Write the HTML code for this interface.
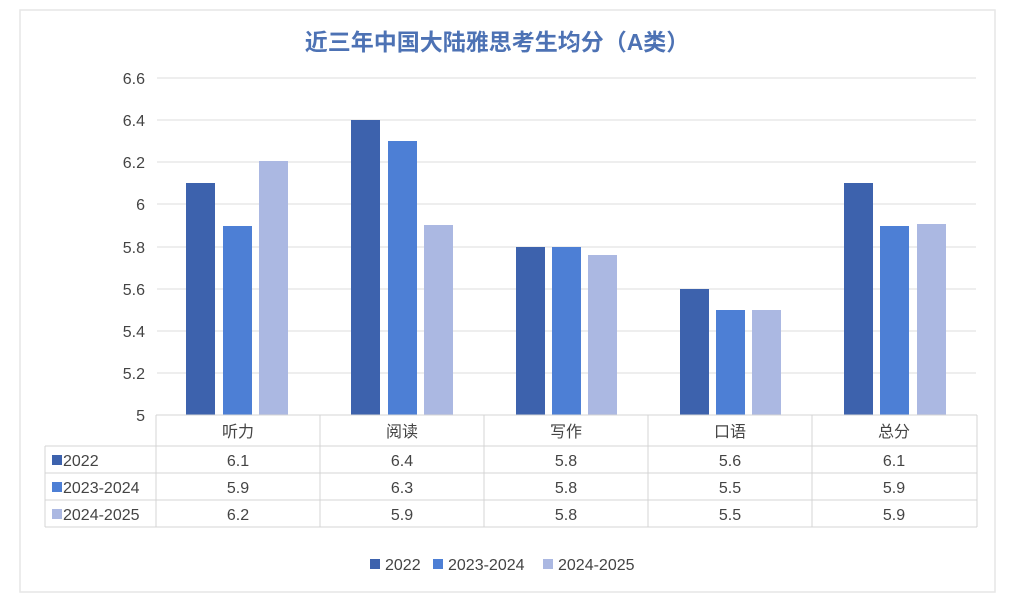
<!DOCTYPE html>
<html><head><meta charset="utf-8"><style>
html,body{margin:0;padding:0;background:#fff;}
svg{display:block;font-family:"Liberation Sans","Noto Sans CJK SC",sans-serif;}
</style></head><body>
<svg width="1024" height="609" viewBox="0 0 1024 609">
<rect x="0" y="0" width="1024" height="609" fill="#fff"/>
<rect x="20" y="10" width="975" height="582" fill="#fff" stroke="#e6e6e6" stroke-width="1.5"/>
<text x="497" y="50" text-anchor="middle" font-size="23" font-weight="bold" fill="#4d72b4">近三年中国大陆雅思考生均分（A类）</text>
<g stroke="#dcdcdc" stroke-width="1">
<line x1="157" y1="78" x2="976" y2="78"/>
<line x1="157" y1="120" x2="976" y2="120"/>
<line x1="157" y1="162" x2="976" y2="162"/>
<line x1="157" y1="204" x2="976" y2="204"/>
<line x1="157" y1="247" x2="976" y2="247"/>
<line x1="157" y1="289" x2="976" y2="289"/>
<line x1="157" y1="331" x2="976" y2="331"/>
<line x1="157" y1="373" x2="976" y2="373"/>
</g>
<g font-size="16" fill="#444" text-anchor="end">
<text x="145" y="84">6.6</text><text x="145" y="126">6.4</text><text x="145" y="168">6.2</text>
<text x="145" y="210">6</text><text x="145" y="253">5.8</text><text x="145" y="295">5.6</text>
<text x="145" y="337">5.4</text><text x="145" y="379">5.2</text><text x="145" y="421">5</text>
</g>
<!-- bars: y = 415 - (v-5)*210.6 -->
<g>
<rect x="186" y="183" width="29" height="232" fill="#3d62ad"/>
<rect x="223" y="226" width="29" height="189" fill="#4d7fd5"/>
<rect x="259" y="161" width="29" height="254" fill="#abb8e2"/>
<rect x="351" y="120" width="29" height="295" fill="#3d62ad"/>
<rect x="388" y="141" width="29" height="274" fill="#4d7fd5"/>
<rect x="424" y="225" width="29" height="190" fill="#abb8e2"/>
<rect x="516" y="247" width="29" height="168" fill="#3d62ad"/>
<rect x="552" y="247" width="29" height="168" fill="#4d7fd5"/>
<rect x="588" y="255" width="29" height="160" fill="#abb8e2"/>
<rect x="680" y="289" width="29" height="126" fill="#3d62ad"/>
<rect x="716" y="310" width="29" height="105" fill="#4d7fd5"/>
<rect x="752" y="310" width="29" height="105" fill="#abb8e2"/>
<rect x="844" y="183" width="29" height="232" fill="#3d62ad"/>
<rect x="880" y="226" width="29" height="189" fill="#4d7fd5"/>
<rect x="917" y="224" width="29" height="191" fill="#abb8e2"/>
</g>
<g stroke="#d4d4d4" stroke-width="1" fill="none">
<line x1="156" y1="415" x2="977" y2="415"/>
<line x1="45" y1="446" x2="977" y2="446"/>
<line x1="45" y1="473" x2="977" y2="473"/>
<line x1="45" y1="500" x2="977" y2="500"/>
<line x1="45" y1="527" x2="977" y2="527"/>
<line x1="45" y1="446" x2="45" y2="527"/>
<line x1="156" y1="415" x2="156" y2="527"/>
<line x1="320" y1="415" x2="320" y2="527"/>
<line x1="484" y1="415" x2="484" y2="527"/>
<line x1="648" y1="415" x2="648" y2="527"/>
<line x1="812" y1="415" x2="812" y2="527"/>
<line x1="977" y1="415" x2="977" y2="527"/>
</g>
<g font-size="16" fill="#444" text-anchor="middle">
<text x="238" y="437">听力</text><text x="402" y="437">阅读</text><text x="566" y="437">写作</text><text x="730" y="437">口语</text><text x="894" y="437">总分</text>
<text x="238" y="466">6.1</text><text x="402" y="466">6.4</text><text x="566" y="466">5.8</text><text x="730" y="466">5.6</text><text x="894" y="466">6.1</text>
<text x="238" y="493">5.9</text><text x="402" y="493">6.3</text><text x="566" y="493">5.8</text><text x="730" y="493">5.5</text><text x="894" y="493">5.9</text>
<text x="238" y="520">6.2</text><text x="402" y="520">5.9</text><text x="566" y="520">5.8</text><text x="730" y="520">5.5</text><text x="894" y="520">5.9</text>
</g>
<g font-size="16" fill="#444">
<rect x="52" y="455" width="10" height="10" fill="#3d62ad"/><text x="63" y="466">2022</text>
<rect x="52" y="482" width="10" height="10" fill="#4d7fd5"/><text x="63" y="493">2023-2024</text>
<rect x="52" y="509" width="10" height="10" fill="#abb8e2"/><text x="63" y="520">2024-2025</text>
<rect x="370" y="559" width="10" height="10" fill="#3d62ad"/><text x="385" y="570">2022</text>
<rect x="433" y="559" width="10" height="10" fill="#4d7fd5"/><text x="448" y="570">2023-2024</text>
<rect x="543" y="559" width="10" height="10" fill="#abb8e2"/><text x="558" y="570">2024-2025</text>
</g>
</svg>
</body></html>
